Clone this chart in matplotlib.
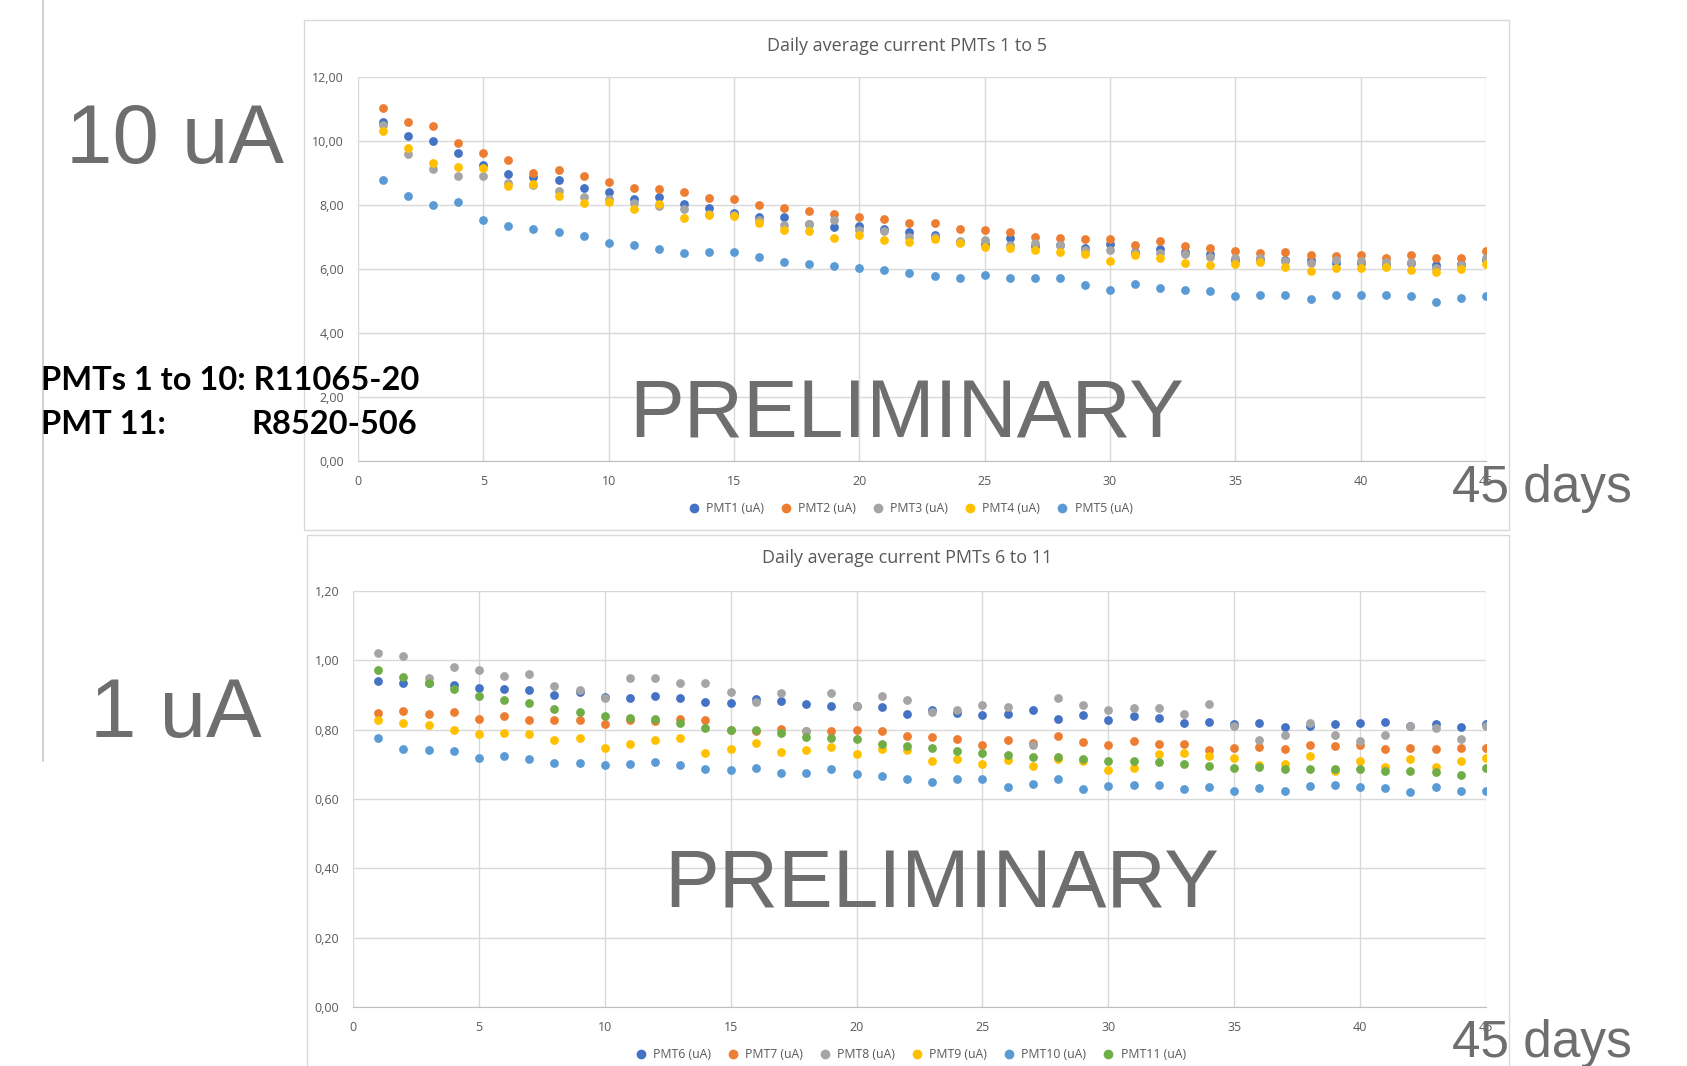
import matplotlib
matplotlib.use("Agg")
import matplotlib.pyplot as plt
from matplotlib.patches import Rectangle
from matplotlib.lines import Line2D
from matplotlib.ticker import FuncFormatter

W, H = 1687, 1066

days = list(range(1, 46))

# top chart, PMTs 1 to 5 (uA)
pmt1 = [10.60, 10.17, 10.00, 9.63, 9.24, 8.97, 8.88, 8.78, 8.54, 8.41, 8.19, 8.24, 8.02, 7.90, 7.75,
        7.63, 7.64, 7.40, 7.32, 7.35, 7.24, 7.15, 7.06, 6.84, 6.79, 6.96, 6.73, 6.76, 6.66, 6.77,
        6.53, 6.62, 6.52, 6.48, 6.29, 6.31, 6.29, 6.29, 6.19, 6.19, 6.17, 6.19, 6.14, 6.17, 6.27]
pmt2 = [11.02, 10.59, 10.48, 9.94, 9.63, 9.42, 8.99, 9.08, 8.92, 8.73, 8.52, 8.50, 8.40, 8.22, 8.19,
        7.99, 7.92, 7.80, 7.72, 7.61, 7.56, 7.43, 7.43, 7.26, 7.21, 7.17, 7.01, 6.98, 6.93, 6.93,
        6.74, 6.86, 6.73, 6.65, 6.55, 6.50, 6.52, 6.45, 6.42, 6.45, 6.33, 6.43, 6.35, 6.35, 6.55]
pmt3 = [10.51, 9.60, 9.14, 8.92, 8.92, 8.69, 8.64, 8.45, 8.24, 8.19, 8.06, 7.96, 7.88, 7.73, 7.70,
        7.53, 7.38, 7.41, 7.54, 7.23, 7.19, 6.99, 7.00, 6.89, 6.90, 6.76, 6.82, 6.76, 6.60, 6.59,
        6.50, 6.50, 6.48, 6.38, 6.34, 6.33, 6.25, 6.19, 6.29, 6.24, 6.21, 6.21, 6.04, 6.14, 6.35]
pmt4 = [10.31, 9.79, 9.32, 9.20, 9.15, 8.60, 8.67, 8.27, 8.06, 8.08, 7.86, 8.04, 7.58, 7.70, 7.65,
        7.45, 7.22, 7.18, 6.98, 7.07, 6.90, 6.83, 6.93, 6.80, 6.69, 6.65, 6.58, 6.52, 6.48, 6.24,
        6.45, 6.35, 6.19, 6.13, 6.16, 6.21, 6.06, 5.95, 6.04, 6.02, 6.05, 5.98, 5.91, 6.00, 6.17]
pmt5 = [8.78, 8.27, 8.01, 8.08, 7.53, 7.35, 7.25, 7.15, 7.02, 6.81, 6.76, 6.63, 6.50, 6.54, 6.52,
        6.38, 6.22, 6.15, 6.09, 6.02, 5.97, 5.86, 5.79, 5.72, 5.81, 5.72, 5.72, 5.72, 5.50, 5.35,
        5.53, 5.41, 5.35, 5.31, 5.15, 5.18, 5.20, 5.05, 5.20, 5.18, 5.20, 5.15, 4.98, 5.10, 5.15]

# bottom chart, PMTs 6 to 11 (uA)
pmt6 = [0.940, 0.934, 0.934, 0.930, 0.919, 0.917, 0.914, 0.899, 0.909, 0.894, 0.891, 0.898, 0.890, 0.881, 0.877,
        0.888, 0.884, 0.873, 0.868, 0.868, 0.866, 0.845, 0.857, 0.849, 0.843, 0.845, 0.857, 0.831, 0.841, 0.829,
        0.839, 0.835, 0.818, 0.821, 0.817, 0.818, 0.808, 0.810, 0.816, 0.820, 0.821, 0.812, 0.817, 0.807, 0.817]
pmt7 = [0.848, 0.853, 0.846, 0.851, 0.831, 0.840, 0.829, 0.829, 0.827, 0.817, 0.827, 0.824, 0.831, 0.827, 0.800,
        0.795, 0.803, 0.797, 0.797, 0.800, 0.797, 0.783, 0.780, 0.774, 0.757, 0.769, 0.761, 0.783, 0.765, 0.756,
        0.768, 0.759, 0.758, 0.741, 0.747, 0.749, 0.745, 0.755, 0.752, 0.757, 0.745, 0.747, 0.743, 0.747, 0.747]
pmt8 = [1.022, 1.013, 0.949, 0.980, 0.973, 0.955, 0.962, 0.925, 0.914, 0.890, 0.949, 0.949, 0.934, 0.936, 0.910,
        0.880, 0.907, 0.797, 0.905, 0.868, 0.897, 0.886, 0.852, 0.857, 0.870, 0.864, 0.757, 0.890, 0.870, 0.857,
        0.863, 0.862, 0.845, 0.874, 0.811, 0.769, 0.785, 0.818, 0.784, 0.766, 0.786, 0.810, 0.805, 0.772, 0.811]
pmt9 = [0.829, 0.819, 0.813, 0.798, 0.787, 0.791, 0.788, 0.771, 0.776, 0.747, 0.758, 0.769, 0.776, 0.732, 0.745,
        0.761, 0.737, 0.742, 0.749, 0.730, 0.744, 0.741, 0.711, 0.714, 0.701, 0.712, 0.696, 0.716, 0.710, 0.683,
        0.689, 0.730, 0.734, 0.723, 0.718, 0.697, 0.702, 0.725, 0.681, 0.709, 0.691, 0.714, 0.692, 0.710, 0.719]
pmt10 = [0.776, 0.745, 0.740, 0.738, 0.717, 0.725, 0.714, 0.705, 0.703, 0.699, 0.701, 0.707, 0.699, 0.686, 0.683,
         0.690, 0.674, 0.674, 0.687, 0.671, 0.667, 0.657, 0.648, 0.657, 0.657, 0.636, 0.643, 0.658, 0.628, 0.637,
         0.641, 0.640, 0.630, 0.636, 0.623, 0.631, 0.623, 0.638, 0.640, 0.634, 0.632, 0.619, 0.636, 0.623, 0.623]
pmt11 = [0.971, 0.951, 0.934, 0.917, 0.896, 0.885, 0.877, 0.859, 0.851, 0.838, 0.834, 0.831, 0.819, 0.806, 0.800,
         0.798, 0.789, 0.780, 0.776, 0.772, 0.759, 0.752, 0.747, 0.739, 0.734, 0.727, 0.721, 0.721, 0.714, 0.710,
         0.711, 0.707, 0.701, 0.694, 0.689, 0.692, 0.687, 0.687, 0.687, 0.687, 0.682, 0.682, 0.677, 0.670, 0.688]

top_series = [("PMT1 (uA)", pmt1, "#4472C4"), ("PMT2 (uA)", pmt2, "#ED7D31"),
              ("PMT3 (uA)", pmt3, "#A5A5A5"), ("PMT4 (uA)", pmt4, "#FFC000"),
              ("PMT5 (uA)", pmt5, "#5B9BD5")]
bottom_series = [("PMT6 (uA)", pmt6, "#4472C4"), ("PMT7 (uA)", pmt7, "#ED7D31"),
                 ("PMT8 (uA)", pmt8, "#A5A5A5"), ("PMT9 (uA)", pmt9, "#FFC000"),
                 ("PMT10 (uA)", pmt10, "#5B9BD5"), ("PMT11 (uA)", pmt11, "#70AD47")]

plt.rcParams['font.family'] = ['Open Sans', 'DejaVu Sans']
TXT = '#595959'


def fx(x):
    return x / W


def fy(y):
    return 1 - y / H


def comma_fmt(v, pos):
    return ("%.2f" % v).replace('.', ',')


def excel_axes(ax, ymax, ystep, title, series, title_y, legend_y):
    for name, vals, col in series:
        ax.scatter(days, vals, s=40, color=col, label=name, zorder=3, linewidths=0)
    ax.set_xlim(0, 45)
    ax.set_ylim(0, ymax)
    ax.set_xticks(range(0, 46, 5))
    ax.set_yticks([i * ystep for i in range(int(round(ymax / ystep)) + 1)])
    ax.yaxis.set_major_formatter(FuncFormatter(comma_fmt))
    ax.grid(True, color='#d9d9d9', linewidth=1)
    ax.set_axisbelow(True)
    for s in ['top', 'right', 'left']:
        ax.spines[s].set_visible(False)
    ax.spines['bottom'].set_color('#bfbfbf')
    ax.tick_params(length=0, labelsize=9, labelcolor=TXT, pad=10)
    # title and legend are centred on the chart frame, not on the plot area
    fig.text(fx(907), fy(title_y), title, fontsize=13, color=TXT, ha='center', va='center')
    handles = [Line2D([], [], marker='o', linestyle='', color=c, markersize=6)
               for _, _, c in series]
    ax.legend(handles, [n for n, _, _ in series], loc='center', ncol=len(series),
              bbox_to_anchor=(fx(907), fy(legend_y)),
              bbox_transform=fig.transFigure, frameon=False, fontsize=8.8,
              handletextpad=0.0, columnspacing=0.8, labelcolor=TXT)


fig = plt.figure(figsize=(16.87, 10.66), dpi=100)

# chart frames
fig.patches.append(Rectangle((fx(304), fy(530)), fx(1509) - fx(304), fy(20) - fy(530),
                             transform=fig.transFigure, fill=False, edgecolor='#d9d9d9', lw=1))
fig.patches.append(Rectangle((fx(307), fy(1075)), fx(1509) - fx(307), fy(535) - fy(1075),
                             transform=fig.transFigure, fill=False, edgecolor='#d9d9d9', lw=1))
fig.lines.append(Line2D([fx(43), fx(43)], [1, fy(761)], transform=fig.transFigure,
                        color='#c8c8c8', lw=1.2))

ax1 = fig.add_axes([fx(358), fy(461), fx(1486) - fx(358), fy(77) - fy(461)])
excel_axes(ax1, 12, 2, "Daily average current PMTs 1 to 5", top_series, 46, 509)

ax2 = fig.add_axes([fx(353), fy(1007), fx(1486) - fx(353), fy(591) - fy(1007)])
excel_axes(ax2, 1.2, 0.2, "Daily average current PMTs 6 to 11", bottom_series, 558, 1055)

big = dict(family='Liberation Sans', color='#6e6e6e', ha='center', va='center')
fig.text(fx(175), fy(141), "10 uA", fontsize=60, **big)
fig.text(fx(176), fy(715), "1 uA", fontsize=60, **big)
fig.text(fx(907), fy(416), "PRELIMINARY", fontsize=59, zorder=5, **big)
fig.text(fx(942), fy(886), "PRELIMINARY", fontsize=59, zorder=5, **big)
fig.text(fx(1542), fy(489), "45 days", fontsize=37, zorder=5, **big)
fig.text(fx(1542), fy(1043), "45 days", fontsize=37, zorder=5, **big)

lbl = dict(family='Lato', fontweight='bold', color='black', ha='left', va='center',
           fontsize=23.5, zorder=6)
fig.text(fx(41), fy(380), "PMTs 1 to 10: R11065-20", **lbl)
fig.text(fx(41), fy(425), "PMT 11:", **lbl)
fig.text(fx(251), fy(425), "R8520-506", **lbl)

fig.savefig("out.png", dpi=100)
